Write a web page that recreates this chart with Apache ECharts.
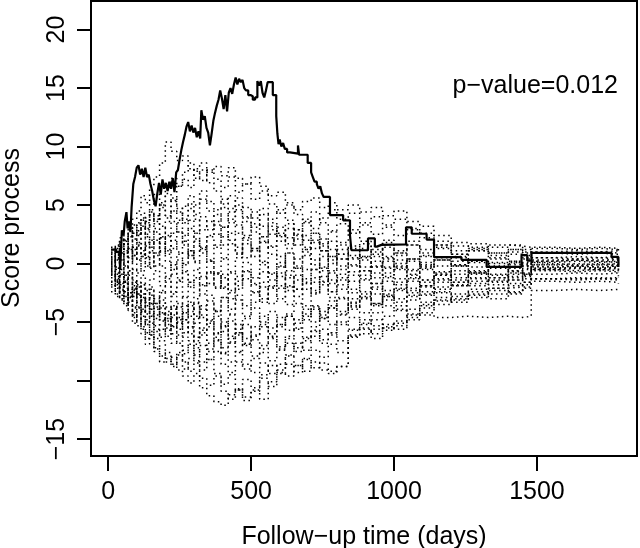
<!DOCTYPE html>
<html><head><meta charset="utf-8">
<script src="https://cdn.jsdelivr.net/npm/echarts@6/dist/echarts.min.js"></script>
<style>html,body{margin:0;padding:0;background:#fff}#c{width:640px;height:548px}</style>
</head><body><div id="c"></div>
<script>
// Observed score process (solid step line)
const obsTimes = [10,28,42,48,54,58,64,68,72,78,82,88,94,100,106,112,118,124,130,136,142,148,154,160,166,172,178,184,190,196,202,208,214,220,226,232,238,244,250,256,262,268,274,280,286,292,298,304,310,316,322,326,332,338,344,350,356,362,368,374,380,386,392,398,404,410,416,422,428,434,440,446,452,458,464,470,476,482,490,498,506,514,522,528,534,540,546,552,558,576,588,592,596,600,606,612,618,626,636,664,668,698,710,716,722,730,736,742,748,754,776,822,846,851,909,933,940,956,1042,1062,1114,1140,1236,1324,1446,1466,1481,1761,1785];
const obsValues = [1.2,1.0,-0.55,2.85,2.4,3.6,4.4,3.0,3.6,2.7,4.8,6.8,7.4,8.2,8.4,7.6,8.1,7.4,8.2,7.4,7.6,6.8,6.2,5.4,4.9,6.0,6.9,5.9,7.2,6.4,6.9,6.2,7.0,6.4,7.3,6.1,7.8,8.0,8.9,9.7,10.4,11.0,11.7,12.1,11.3,11.8,11.2,11.6,10.8,11.3,10.7,13.1,12.3,12.6,11.6,11.2,10.1,11.1,12.2,12.9,13.5,14.0,14.8,14.1,13.2,14.4,13.0,14.6,15.0,14.5,15.3,15.9,15.3,15.8,15.5,15.7,15.0,14.8,14.4,14.3,14.0,14.2,15.6,15.2,15.6,14.6,14.2,14.8,15.5,14.4,12.6,11.1,10.2,10.6,10.0,10.3,9.8,9.5,9.4,10.1,9.3,8.6,7.8,7.4,7.0,6.8,6.4,6.6,6.0,5.7,4.15,3.7,2.4,1.14,2.15,1.45,1.6,1.65,3.1,2.55,2.05,0.55,0.32,-0.28,0.72,0.25,0.92,0.57,-0.28];

// Simulated score processes (dotted step lines), shared jump times
const simTimes = [10,25,40,55,70,85,100,115,130,145,160,180,200,220,240,260,280,300,320,345,370,395,420,445,470,500,530,560,590,620,650,680,710,740,770,800,840,880,920,960,1000,1045,1090,1140,1200,1260,1330,1400,1450,1480,1560,1640,1720,1785];
const sim1 = [0.8,1.5,2.2,1.6,3.0,3.8,4.5,5.8,5.2,6.6,7.4,8.6,10.4,9.6,8.8,9.2,8.1,7.3,8.0,6.9,6.2,5.1,5.8,4.6,3.9,4.4,3.2,2.5,3.1,2.2,1.6,2.4,1.8,1.1,1.9,0.8,1.5,0.6,1.2,0.4,0.9,0.2,0.7,0.3,0.6,0.1,0.5,0.2,0.4,0.2,0.3,0.2,0.1,-0.1];
const sim2 = [-0.6,-1.4,-2.2,-2.8,-3.5,-4.2,-4.9,-5.6,-6.4,-5.8,-7.2,-7.9,-8.4,-8.0,-9.1,-9.6,-10.2,-9.4,-10.6,-11.3,-11.8,-12.1,-11.2,-10.7,-11.4,-10.8,-11.6,-10.1,-9.3,-9.6,-8.7,-8.2,-8.9,-8.5,-9.2,-8.8,-6.3,-6.0,-5.6,-5.4,-5.1,-4.6,-4.4,-4.6,-4.5,-4.6,-4.5,-4.6,-4.5,-2.3,-2.2,-2.3,-2.2,-2.3];
const sim3 = [1.2,0.6,1.8,2.4,1.9,2.8,3.4,2.6,3.9,4.6,3.8,5.2,6.0,5.4,6.6,7.2,6.5,8.1,8.6,7.8,8.3,7.5,8.2,7.3,6.8,7.4,6.6,5.8,6.1,5.2,4.6,5.3,5.6,4.8,5.2,4.6,5.0,4.4,4.8,4.1,4.5,3.6,3.2,2.4,1.8,1.4,1.6,1.5,1.4,1.4,1.3,1.4,1.3,1.1];
const sim4 = [-1.8,-2.6,-1.9,-3.2,-2.5,-3.8,-4.6,-3.9,-5.2,-4.4,-5.8,-6.3,-5.5,-6.8,-6.1,-7.4,-6.6,-7.8,-7.0,-8.2,-7.5,-8.6,-9.3,-8.4,-9.0,-8.1,-7.6,-8.3,-7.4,-6.8,-7.2,-6.4,-5.8,-6.5,-5.9,-6.6,-5.7,-5.2,-4.8,-5.5,-4.9,-3.9,-3.6,-3.1,-2.8,-2.4,-2.1,-2.0,-1.6,-1.3,-1.2,-1.3,-1.2,-1.0];
const sim5 = [0.3,-0.4,0.8,-0.2,1.2,0.4,-0.8,0.6,1.5,-0.3,0.9,2.2,1.1,-0.5,0.8,1.9,0.7,2.6,1.4,0.2,1.6,3.1,2.0,0.9,2.4,1.3,0.1,1.5,0.6,-0.6,0.4,1.2,0.3,-0.4,0.6,-0.2,0.5,-0.6,0.2,-0.3,0.3,-0.5,0.1,-0.2,0.2,-0.3,0.1,-0.1,0.1,0.0,-0.1,0.0,-0.1,-0.3];
const sim6 = [-0.9,-2.1,-3.0,-2.4,-3.9,-4.6,-3.7,-5.4,-4.8,-6.1,-7.3,-6.6,-8.1,-8.8,-7.6,-8.4,-9.2,-8.5,-9.8,-10.4,-9.6,-10.9,-11.6,-10.8,-9.9,-10.6,-9.5,-8.7,-9.1,-7.9,-6.8,-7.4,-6.2,-5.6,-6.1,-5.2,-4.6,-5.1,-4.2,-3.6,-4.0,-3.1,-2.6,-2.2,-1.9,-1.5,-1.8,-1.4,-1.1,-0.5,-0.6,-0.5,-0.6,-0.7];
const sim7 = [0.5,1.3,0.7,2.0,2.9,2.1,3.5,4.3,3.6,5.1,5.9,5.0,6.4,7.3,6.6,7.8,8.6,7.9,7.1,8.0,7.2,6.5,7.4,6.1,6.8,5.5,6.2,5.1,4.3,5.0,4.2,3.6,4.4,3.5,2.8,3.4,2.6,3.3,2.5,3.1,2.4,2.9,2.2,1.6,1.1,1.3,0.9,1.2,0.9,0.9,0.8,0.9,0.8,0.6];
const sim8 = [-0.4,-1.1,-0.5,-1.7,-1.0,-2.3,-1.6,-2.9,-3.6,-2.7,-3.9,-3.1,-4.4,-3.6,-5.0,-4.2,-5.5,-4.7,-5.9,-5.1,-6.3,-5.4,-6.7,-5.9,-6.9,-6.2,-5.4,-6.0,-5.2,-4.5,-5.1,-4.3,-3.7,-4.4,-3.6,-4.1,-3.3,-2.8,-3.4,-2.6,-3.0,-2.3,-2.7,-2.0,-1.6,-1.9,-1.4,-1.7,-1.3,-0.4,-0.3,-0.4,-0.3,-0.4];
const sim9 = [1.0,0.4,1.6,0.9,2.3,3.1,2.4,3.7,2.9,4.2,3.4,4.8,3.9,5.3,4.4,3.5,4.7,3.8,2.9,3.6,2.5,1.6,2.6,1.4,0.5,1.3,0.2,-0.9,0.1,-1.2,-0.4,-1.6,-2.5,-1.8,-2.9,-2.2,-3.0,-2.4,-1.7,-2.3,-1.6,-2.1,-1.4,-0.8,-1.2,-0.6,-0.9,-0.4,-0.2,0.2,0.3,0.2,0.3,0.1];
const sim10 = [-1.5,-0.8,-2.4,-1.6,-2.9,-2.1,-3.4,-4.2,-3.3,-4.7,-5.6,-4.8,-6.2,-5.3,-6.8,-7.7,-6.9,-8.3,-9.1,-8.2,-9.4,-10.3,-9.5,-10.8,-11.7,-10.9,-9.8,-10.5,-9.4,-8.6,-9.3,-8.1,-7.4,-8.0,-6.9,-7.6,-6.1,-5.5,-6.0,-5.2,-5.6,-4.8,-4.2,-3.5,-3.1,-2.7,-3.0,-2.5,-2.0,-1.3,-1.4,-1.3,-1.4,-1.2];
const sim11 = [0.2,0.9,1.7,1.1,2.4,1.6,2.8,2.1,3.5,2.7,4.1,3.2,2.4,3.6,2.7,1.9,3.0,2.1,1.2,2.3,1.4,0.5,1.7,0.8,2.0,1.1,2.3,1.4,2.6,1.7,2.9,2.0,1.3,2.1,1.2,0.4,1.3,0.5,-0.3,0.6,-0.2,0.4,-0.4,0.3,-0.2,0.2,-0.3,0.1,-0.2,-0.3,-0.2,-0.3,-0.2,-0.5];
const sim12 = [-0.2,0.5,-0.7,-1.5,-0.6,-1.9,-2.7,-1.8,-3.0,-2.2,-3.4,-2.5,-1.6,-2.8,-3.7,-2.9,-4.1,-3.3,-4.6,-5.4,-4.5,-5.8,-4.9,-6.1,-5.2,-6.5,-7.3,-6.4,-7.1,-6.2,-5.5,-6.3,-5.4,-4.6,-5.2,-4.4,-3.6,-4.2,-3.4,-2.8,-3.3,-2.5,-1.9,-2.4,-1.8,-1.2,-1.5,-1.1,-0.8,-0.3,-0.2,-0.3,-0.2,-0.2];
const sim13 = [-0.5,0.3,-0.4,0.6,1.4,0.7,1.8,1.1,2.5,1.8,3.0,2.2,3.6,4.5,3.7,4.9,5.8,5.0,6.2,5.3,4.6,5.5,4.7,5.6,4.8,3.9,4.7,3.8,4.6,3.7,2.9,3.8,3.0,3.9,4.6,3.8,4.3,3.5,4.0,3.3,3.8,3.0,2.6,1.9,1.5,1.7,1.4,1.6,1.2,0.5,0.4,0.5,0.4,0.3];
const sim14 = [-2.4,-1.7,-3.1,-2.3,-4.0,-5.1,-4.3,-6.0,-6.9,-6.1,-7.5,-8.4,-7.6,-8.6,-7.8,-9.0,-8.1,-7.2,-8.4,-7.5,-6.6,-7.7,-6.8,-5.9,-7.0,-6.1,-5.2,-6.3,-5.4,-4.5,-5.6,-4.8,-3.9,-4.7,-3.8,-3.0,-3.7,-2.9,-3.6,-2.8,-2.1,-2.7,-2.0,-1.4,-1.9,-1.3,-1.6,-1.2,-0.9,-0.5,-0.4,-0.5,-0.4,-0.6];
const sim15 = [0.6,-0.3,0.9,0.2,-0.6,0.7,1.6,0.8,-0.2,1.1,2.0,1.0,2.3,1.3,2.7,1.6,0.7,1.9,0.9,2.4,3.3,2.3,3.5,2.6,3.6,2.7,1.8,2.9,1.9,3.0,2.1,1.2,2.0,1.1,0.3,1.2,0.4,1.3,0.6,1.4,0.7,1.6,0.9,1.3,0.8,1.1,0.9,1.2,1.0,0.9,0.9,1.0,0.9,0.8];
const sim16 = [-1.2,-0.6,-1.8,-1.0,-2.2,-1.4,-2.6,-1.8,-3.1,-3.9,-3.0,-4.3,-5.2,-4.4,-5.6,-4.8,-6.0,-6.9,-6.1,-7.3,-6.5,-7.6,-8.4,-7.5,-8.6,-9.3,-8.5,-9.4,-8.6,-7.8,-8.7,-9.2,-8.4,-9.1,-9.4,-8.8,-6.2,-5.6,-6.4,-5.7,-5.3,-4.4,-3.8,-3.2,-2.6,-2.9,-2.3,-2.6,-2.1,-0.1,-0.2,-0.1,-0.2,-0.3];
const sim17 = [-0.3,0.4,-0.9,-0.2,-1.3,-0.5,-1.8,-1.0,-2.2,-1.4,-0.6,-1.9,-1.1,-2.4,-1.5,-0.7,-2.0,-1.2,-2.6,-1.7,-0.8,-2.1,-3.0,-2.2,-1.3,-2.5,-1.6,-0.8,-1.9,-1.0,-2.2,-1.3,-0.5,-1.6,-0.8,-1.8,-1.0,-0.3,-1.2,-0.4,-1.3,-0.6,-1.4,-0.7,-0.2,-0.8,-0.3,-0.9,-0.4,-0.1,0.0,-0.1,0.0,-0.2];
const sim18 = [0.9,1.6,0.8,1.9,1.2,0.3,1.5,0.6,1.8,0.9,-0.2,1.1,0.2,-0.9,0.3,-0.6,-1.6,-0.5,-1.8,-0.8,-2.1,-1.2,-2.5,-1.5,-0.6,-1.7,-0.7,-2.0,-1.1,-2.3,-1.4,-0.5,-1.6,-0.6,-1.7,-0.9,-0.1,-1.0,-0.2,-1.1,-0.3,-1.2,-0.5,-1.3,-0.6,-0.9,-0.4,-0.8,-0.5,0.3,0.4,0.3,0.4,0.2];
const sim19 = [-1.0,-1.8,-0.9,-2.4,-3.3,-2.5,-3.8,-2.9,-4.3,-3.4,-4.7,-3.8,-4.9,-3.9,-4.8,-3.6,-4.5,-3.4,-4.4,-3.2,-4.1,-2.9,-3.9,-2.7,-3.6,-2.4,-3.3,-2.1,-3.0,-1.9,-2.8,-1.7,-2.6,-1.5,-2.4,-1.4,-2.2,-1.3,-2.0,-1.2,-1.8,-1.0,-1.6,-0.9,-1.4,-0.8,-1.2,-0.7,-1.0,-0.6,-0.7,-0.6,-0.7,-0.8];
const sim20 = [0.1,0.8,1.4,2.1,1.3,2.6,1.8,3.2,2.3,1.4,2.7,1.7,0.8,2.0,1.0,-0.1,1.1,0.1,-1.1,0.2,-0.9,-2.0,-0.8,-1.9,-0.7,-1.8,-3.0,-1.9,-0.8,-2.0,-1.0,-2.2,-1.2,-0.3,-1.4,-0.5,-1.5,-0.6,-1.7,-0.8,0.0,-0.9,-0.1,-1.0,-0.2,-0.7,-0.3,-0.6,-0.2,-0.4,-0.3,-0.4,-0.3,-0.4];
const sim21 = [-1.6,-2.8,-2.0,-3.4,-2.5,-1.6,-2.9,-4.1,-3.1,-2.0,-3.4,-2.3,-3.7,-2.6,-1.4,-2.8,-1.6,-3.0,-1.9,-0.7,-2.0,-0.9,-2.3,-1.1,0.1,-1.2,-0.1,-1.4,-0.2,0.9,-0.4,0.7,-0.5,0.6,-0.6,0.4,-0.7,0.3,-0.8,0.2,-0.5,0.4,-0.3,0.5,-0.1,0.3,-0.2,0.2,0.0,0.5,0.6,0.5,0.6,0.4];
const sim22 = [0.4,-0.5,0.3,-0.8,0.5,1.4,0.4,1.7,0.6,2.0,0.9,2.3,1.2,2.6,3.5,2.4,3.7,2.6,4.0,2.9,4.2,3.1,4.4,3.3,2.2,3.4,2.3,3.5,2.4,1.3,2.5,1.4,2.6,1.5,0.6,1.6,0.7,1.7,0.8,1.8,0.9,1.6,0.6,1.4,0.5,1.1,0.4,0.8,0.5,1.0,1.1,1.0,1.1,0.9];
const sim23 = [-0.7,-1.5,-2.3,-1.4,-2.8,-3.7,-2.6,-4.0,-5.0,-3.9,-5.3,-4.2,-5.7,-4.6,-3.4,-4.8,-3.6,-5.1,-3.9,-2.7,-4.1,-2.9,-4.3,-3.1,-4.5,-3.3,-2.0,-3.4,-2.1,-3.5,-2.2,-3.6,-2.3,-1.1,-2.4,-1.2,-2.5,-1.4,-2.6,-1.5,-2.2,-1.3,-1.9,-1.0,-1.6,-0.8,-1.2,-0.6,-0.9,-0.5,-0.4,-0.5,-0.4,-0.5];
const sim24 = [0.0,0.6,-0.2,0.9,0.1,1.2,0.3,-0.6,0.5,-0.4,0.7,-0.2,-1.3,-0.1,-1.2,0.0,1.1,0.2,1.3,0.3,-0.8,0.4,-0.7,0.5,1.7,0.6,1.9,0.8,-0.3,0.9,-0.2,1.0,-0.1,1.1,0.0,0.8,-0.2,0.6,-0.3,0.5,-0.4,0.4,-0.2,0.3,-0.1,0.2,0.0,0.1,-0.1,0.1,0.2,0.1,0.2,0.0];
const sim25 = [-0.8,-1.6,-1.0,-2.1,-2.9,-2.2,-3.3,-2.6,-3.8,-4.5,-3.7,-4.9,-4.1,-5.4,-4.6,-5.9,-5.0,-6.3,-5.5,-6.8,-5.9,-7.2,-6.4,-7.6,-6.8,-7.9,-7.0,-6.2,-7.3,-6.4,-7.5,-6.6,-5.7,-6.8,-5.9,-5.0,-5.6,-4.8,-5.3,-4.5,-3.9,-4.3,-3.5,-2.9,-3.3,-2.6,-2.1,-2.4,-1.8,-1.3,-1.3,-1.2,-1.3,-1.4];
const sim26 = [-0.1,-0.9,-1.7,-1.0,-2.0,-2.8,-2.0,-3.1,-2.3,-3.5,-4.4,-3.6,-4.7,-3.9,-5.1,-4.2,-3.3,-4.5,-3.6,-4.9,-4.0,-5.3,-4.4,-5.6,-4.7,-3.8,-5.0,-4.1,-5.2,-4.3,-3.4,-4.5,-3.6,-4.7,-3.8,-2.9,-3.9,-3.0,-2.2,-3.1,-2.3,-1.5,-2.4,-1.6,-0.9,-1.7,-1.0,-1.4,-0.9,-1.5,-1.6,-1.5,-1.6,-1.7];
const sim27 = [1.4,0.7,2.0,1.2,2.6,3.3,2.5,3.9,3.0,4.4,3.6,5.0,4.1,5.6,4.7,3.8,5.1,4.2,5.5,4.5,3.6,4.8,3.8,5.0,4.0,3.1,4.2,3.2,2.3,3.4,2.4,3.5,2.6,1.7,2.7,1.8,2.9,1.9,1.0,2.0,1.1,1.9,1.2,1.6,0.8,1.2,0.7,1.0,0.7,1.3,1.2,1.3,1.2,1.0];
const sim28 = [-2.0,-1.3,-2.7,-3.6,-2.8,-4.4,-5.3,-4.5,-5.9,-5.1,-6.4,-5.6,-4.7,-6.0,-5.1,-6.3,-5.4,-6.6,-5.7,-4.8,-6.0,-5.0,-6.2,-5.2,-6.4,-5.4,-4.5,-5.5,-4.6,-5.7,-4.8,-3.9,-5.0,-4.1,-3.2,-4.3,-3.4,-2.6,-3.5,-2.7,-3.6,-2.8,-3.3,-2.5,-3.0,-2.2,-2.6,-1.9,-1.6,-0.9,-0.8,-0.9,-0.8,-0.9];
const simSeries = [sim1,sim2,sim3,sim4,sim5,sim6,sim7,sim8,sim9,sim10,sim11,sim12,sim13,sim14,sim15,sim16,sim17,sim18,sim19,sim20,sim21,sim22,sim23,sim24,sim25,sim26,sim27,sim28];

const xTicks = [0,500,1000,1500];
const yTicks = [-15,-10,-5,0,5,10,15,20];
const yLabels = [-15,-5,0,5,10,15,20];
const pText = 'p\u2212value=0.012';
const xTitle = 'Follow\u2212up time (days)';
const yTitle = 'Score process';

const FONT = '"Liberation Sans", Arial, Helvetica, sans-serif';
const fmt = v => (v < 0 ? '\u2212' + Math.abs(v) : String(v));

const series = simSeries.map(vals => ({
  type: 'line', step: 'end', symbol: 'none', silent: true,
  data: simTimes.map((t, i) => [t, vals[i]]),
  lineStyle: { color: '#000', width: 1.5, type: [1.5, 3.5], cap: 'butt' }
}));
series.push({
  type: 'line', step: 'end', symbol: 'none', silent: true,
  data: obsTimes.map((t, i) => [t, obsValues[i]]),
  lineStyle: { color: '#000', width: 2.2 }
});

const chart = echarts.init(document.getElementById('c'), null, { renderer: 'canvas' });
chart.setOption({
  animation: false,
  backgroundColor: '#fff',
  grid: { left: 91, right: 3, top: 1, bottom: 92, show: true, borderColor: '#000', borderWidth: 2, containLabel: false },
  xAxis: {
    type: 'value', min: -60, max: 1850,
    splitLine: { show: false },
    axisLine: { show: true, onZero: false, lineStyle: { color: '#000', width: 2 } },
    axisTick: { show: true, customValues: xTicks, length: 15, lineStyle: { color: '#000', width: 2 } },
    axisLabel: { customValues: xTicks, fontSize: 25, fontFamily: FONT, color: '#000', margin: 24, formatter: fmt }
  },
  yAxis: {
    type: 'value', min: -16.44, max: 22.44,
    splitLine: { show: false },
    axisLine: { show: true, onZero: false, lineStyle: { color: '#000', width: 2 } },
    axisTick: { show: true, customValues: yTicks, length: 14, lineStyle: { color: '#000', width: 2 } },
    axisLabel: { customValues: yLabels, rotate: 90, fontSize: 25, fontFamily: FONT, color: '#000', margin: 21, formatter: fmt }
  },
  graphic: [
    { type: 'text', x: 364, y: 537, silent: true,
      style: { text: xTitle, font: '25px ' + FONT, fill: '#000', textAlign: 'center', textVerticalAlign: 'middle' } },
    { type: 'text', x: 12, y: 228, rotation: Math.PI / 2, silent: true,
      style: { text: yTitle, font: '25px ' + FONT, fill: '#000', textAlign: 'center', textVerticalAlign: 'middle' } },
    { type: 'text', x: 618, y: 86, silent: true,
      style: { text: pText, font: '25px ' + FONT, fill: '#000', textAlign: 'right', textVerticalAlign: 'middle' } }
  ],
  series: series
});
</script>
</body></html>
